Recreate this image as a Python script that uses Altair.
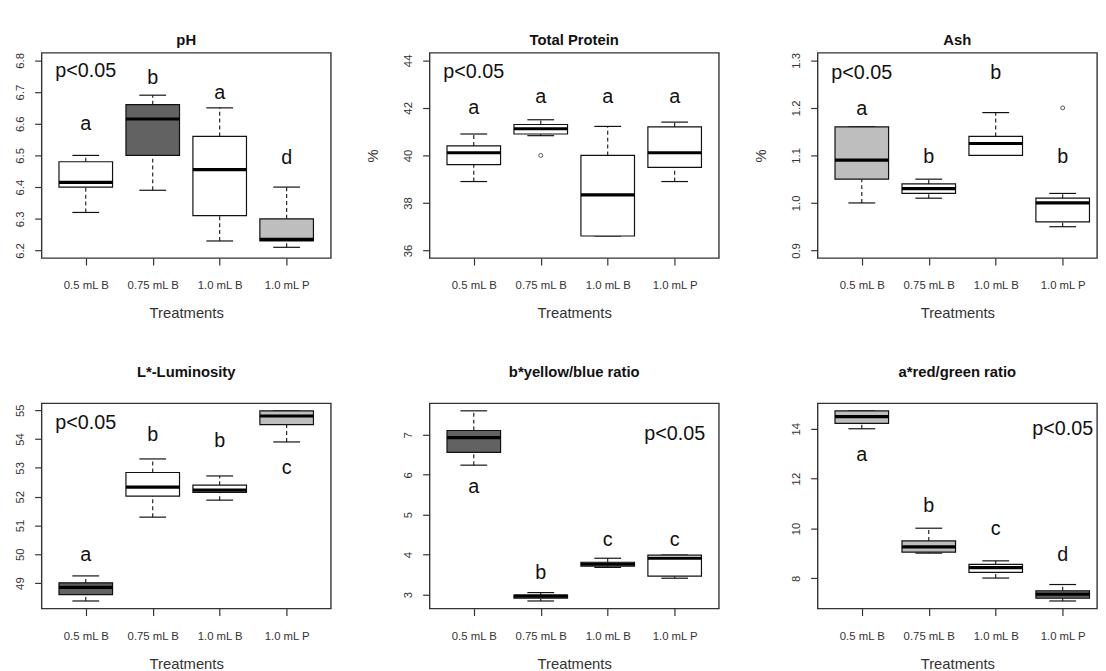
import json
import altair as alt
import pandas as pd

FONT = "Liberation Sans"

treatments = ["0.5 mL B", "0.75 mL B", "1.0 mL B", "1.0 mL P"]
positions = [1, 2, 3, 4]

# ---- pH ----
ph_wlo = [6.32, 6.39, 6.23, 6.21]
ph_q1 = [6.40, 6.50, 6.31, 6.23]
ph_med = [6.415, 6.615, 6.455, 6.235]
ph_q3 = [6.48, 6.66, 6.56, 6.30]
ph_whi = [6.50, 6.69, 6.65, 6.40]
ph_fill = ["white", "dark", "white", "light"]
ph_letters = ["a", "b", "a", "d"]
ph_letter_y = [6.598, 6.743, 6.697, 6.49]
ph_ylim = [6.2, 6.8]
ph_ticks = [6.2, 6.3, 6.4, 6.5, 6.6, 6.7, 6.8]

# ---- Total Protein ----
tp_wlo = [38.9, 40.83, 36.61, 38.9]
tp_q1 = [39.61, 40.9, 36.61, 39.5]
tp_med = [40.11, 41.12, 38.34, 40.11]
tp_q3 = [40.4, 41.3, 40.0, 41.2]
tp_whi = [40.9, 41.5, 41.22, 41.4]
tp_fill = ["white", "white", "white", "white"]
tp_letters = ["a", "a", "a", "a"]
tp_letter_y = [41.98, 42.46, 42.46, 42.46]
tp_out_x = [2]
tp_out_y = [40.0]
tp_ylim = [36, 44]
tp_ticks = [36, 38, 40, 42, 44]

# ---- Ash ----
ash_wlo = [1.00, 1.01, 1.10, 0.95]
ash_q1 = [1.05, 1.02, 1.10, 0.96]
ash_med = [1.09, 1.03, 1.125, 1.00]
ash_q3 = [1.16, 1.04, 1.14, 1.01]
ash_whi = [1.16, 1.05, 1.19, 1.02]
ash_fill = ["light", "white", "white", "white"]
ash_letters = ["a", "b", "b", "b"]
ash_letter_y = [1.197, 1.096, 1.273, 1.096]
ash_out_x = [4]
ash_out_y = [1.20]
ash_ylim = [0.9, 1.3]
ash_ticks = [0.9, 1.0, 1.1, 1.2, 1.3]

# ---- L*-Luminosity ----
L_wlo = [48.38, 51.29, 51.88, 53.9]
L_q1 = [48.6, 52.02, 52.15, 54.5]
L_med = [48.85, 52.33, 52.23, 54.8]
L_q3 = [49.01, 52.84, 52.40, 54.98]
L_whi = [49.25, 53.31, 52.72, 54.98]
L_fill = ["dark", "white", "white", "light"]
L_letters = ["a", "b", "b", "c"]
L_letter_y = [49.96, 54.15, 53.94, 53.0]
L_ylim = [48.38, 54.98]
L_ticks = [49, 50, 51, 52, 53, 54, 55]

# ---- b* yellow/blue ----
b_wlo = [6.24, 2.84, 3.68, 3.41]
b_q1 = [6.56, 2.91, 3.71, 3.46]
b_med = [6.93, 2.96, 3.76, 3.91]
b_q3 = [7.107, 2.99, 3.81, 3.99]
b_whi = [7.6, 3.05, 3.91, 3.99]
b_fill = ["dark", "light", "light", "white"]
b_letters = ["a", "b", "c", "c"]
b_letter_y = [5.68, 3.55, 4.36, 4.36]
b_ylim = [2.84, 7.6]
b_ticks = [3, 4, 5, 6, 7]

# ---- a* red/green ----
a_wlo = [14.0, 9.01, 8.01, 7.09]
a_q1 = [14.22, 9.05, 8.24, 7.2]
a_med = [14.49, 9.26, 8.43, 7.36]
a_q3 = [14.72, 9.5, 8.56, 7.5]
a_whi = [14.72, 10.01, 8.70, 7.75]
a_fill = ["light", "light", "white", "dark"]
a_letters = ["a", "b", "c", "d"]
a_letter_y = [12.93, 10.89, 9.97, 8.92]
a_ylim = [7.09, 14.72]
a_ticks = [8, 10, 12, 14]

p_label = "p<0.05"

fill_names = ["white", "light", "dark"]
fill_colors = ["#ffffff", "#bebebe", "#626262"]

label_expr = json.dumps(treatments) + "[datum.value - 1]"


def panel(title, ytitle, ytitle_visible, wlo, q1, med, q3, whi, fills,
          letters, letter_y, ylim, ticks, fmt, p_x, p_y,
          out_x=None, out_y=None, width=293, xmax=4.66, title_offset=4):
    df = pd.DataFrame({
        "pos": positions, "treat": treatments, "wlo": wlo, "q1": q1,
        "med": med, "q3": q3, "whi": whi, "fill": fills,
        "letter": letters, "ly": letter_y,
    })
    lo, hi = ylim
    pad = 0.04 * (hi - lo)
    xscale = alt.Scale(domain=[0.34, xmax], nice=False, zero=False)
    yscale = alt.Scale(domain=[lo - pad, hi + pad], nice=False, zero=False)

    xaxis = alt.Axis(values=positions, labelExpr=label_expr, title="Treatments",
                     tickSize=7, tickColor="#333", tickWidth=1.2, domain=False,
                     grid=False, labelAngle=0, labelFont=FONT, labelFontSize=11.5,
                     labelColor="#333", labelPadding=15, titleFont=FONT,
                     titleFontSize=15, titleFontWeight="normal", titleColor="#333",
                     titlePadding=15, labelFlush=False)
    yargs = dict(values=ticks, format=fmt, labelAngle=270, labelAlign="center",
                 labelBaseline="bottom", labelPadding=9, tickSize=7,
                 tickColor="#333", tickWidth=1.2, domain=False, grid=False,
                 labelFont=FONT, labelFontSize=11.5, labelColor="#333",
                 labelOverlap=False, labelFlush=False)
    if ytitle:
        yaxis = alt.Axis(title=ytitle, titleFont=FONT, titleFontSize=15,
                         titleFontWeight="normal", titleColor="#333",
                         titlePadding=23, titleOpacity=1 if ytitle_visible else 0,
                         **yargs)
    else:
        yaxis = alt.Axis(title=None, **yargs)

    base = alt.Chart(df)

    def X(f):
        return alt.X(f, type="quantitative", scale=xscale, axis=xaxis)

    def Y(f):
        return alt.Y(f, type="quantitative", scale=yscale, axis=yaxis)

    upper = base.mark_rule(color="#111", strokeWidth=1.1, strokeDash=[4, 3]).encode(
        x=X("pos"), y=Y("q3"), y2="whi:Q")
    lower = base.mark_rule(color="#111", strokeWidth=1.1, strokeDash=[4, 3]).encode(
        x=X("pos"), y=Y("wlo"), y2="q1:Q")
    capbase = base.transform_calculate(cl="datum.pos - 0.2", cr="datum.pos + 0.2")
    cap_hi = capbase.mark_rule(color="#111", strokeWidth=1.2).encode(
        x=X("cl"), x2="cr:Q", y=Y("whi"))
    cap_lo = capbase.mark_rule(color="#111", strokeWidth=1.2).encode(
        x=X("cl"), x2="cr:Q", y=Y("wlo"))
    boxbase = base.transform_calculate(bl="datum.pos - 0.4", br="datum.pos + 0.4")
    box = boxbase.mark_rect(stroke="#111", strokeWidth=1.2).encode(
        x=X("bl"), x2="br:Q", y=Y("q1"), y2="q3:Q",
        fill=alt.Fill("fill:N", scale=alt.Scale(domain=fill_names, range=fill_colors),
                      legend=None))
    median = boxbase.mark_rule(color="#000", strokeWidth=3.2).encode(
        x=X("bl"), x2="br:Q", y=Y("med"))
    letters_layer = base.mark_text(font=FONT, fontSize=20, color="#111",
                                   align="center", baseline="middle").encode(
        x=X("pos"), y=Y("ly"), text="letter:N")
    pdf = pd.DataFrame({"px": [p_x], "py": [p_y], "t": [p_label]})
    ptext = alt.Chart(pdf).mark_text(font=FONT, fontSize=20, color="#111",
                                     align="center", baseline="middle").encode(
        x=X("px"), y=Y("py"), text="t:N")
    layers = [upper, lower, cap_hi, cap_lo, box, median, letters_layer, ptext]
    if out_x:
        odf = pd.DataFrame({"ox": out_x, "oy": out_y})
        layers.append(alt.Chart(odf).mark_point(shape="circle", filled=False,
                                                size=16, color="#111",
                                                strokeWidth=1).encode(
            x=X("ox"), y=Y("oy")))
    return alt.layer(*layers).properties(
        width=width, height=208,
        title=alt.TitleParams(title, font=FONT, fontSize=15, fontWeight="bold",
                              color="#111", anchor="middle", offset=title_offset))


W3 = 283
XMAX3 = 0.34 + W3 * 4.32 / 293

p1 = panel("pH", None, False, ph_wlo, ph_q1, ph_med, ph_q3, ph_whi, ph_fill,
           ph_letters, ph_letter_y, ph_ylim, ph_ticks, ".1f", 1, 6.765,
           title_offset=5)
p2 = panel("Total Protein", "%", True, tp_wlo, tp_q1, tp_med, tp_q3, tp_whi, tp_fill,
           tp_letters, tp_letter_y, tp_ylim, tp_ticks, "d", 1, 43.5,
           out_x=tp_out_x, out_y=tp_out_y, title_offset=5)
p3 = panel("Ash", "%", True, ash_wlo, ash_q1, ash_med, ash_q3, ash_whi, ash_fill,
           ash_letters, ash_letter_y, ash_ylim, ash_ticks, ".1f", 1, 1.273,
           out_x=ash_out_x, out_y=ash_out_y, width=W3, xmax=XMAX3, title_offset=5)
p4 = panel("L*-Luminosity", None, False, L_wlo, L_q1, L_med, L_q3, L_whi, L_fill,
           L_letters, L_letter_y, L_ylim, L_ticks, "d", 1, 54.55, title_offset=24)
p5 = panel("b*yellow/blue ratio", "%", False, b_wlo, b_q1, b_med, b_q3, b_whi, b_fill,
           b_letters, b_letter_y, b_ylim, b_ticks, "d", 4, 7.02, title_offset=24)
p6 = panel("a*red/green ratio", "%", False, a_wlo, a_q1, a_med, a_q3, a_whi, a_fill,
           a_letters, a_letter_y, a_ylim, a_ticks, "d", 4, 14.0,
           width=W3, xmax=XMAX3, title_offset=24)

row1 = alt.hconcat(p1, p2, p3, spacing=33)
row2 = alt.hconcat(p4, p5, p6, spacing=33)

chart = alt.vconcat(row1, row2, spacing=42).properties(
    padding={"top": 20, "left": 6, "right": 0, "bottom": 0},
    background="white",
).configure_view(stroke="#333", strokeWidth=1.4)

chart.save("out.html", embed_options={"renderer": "svg", "actions": False})
